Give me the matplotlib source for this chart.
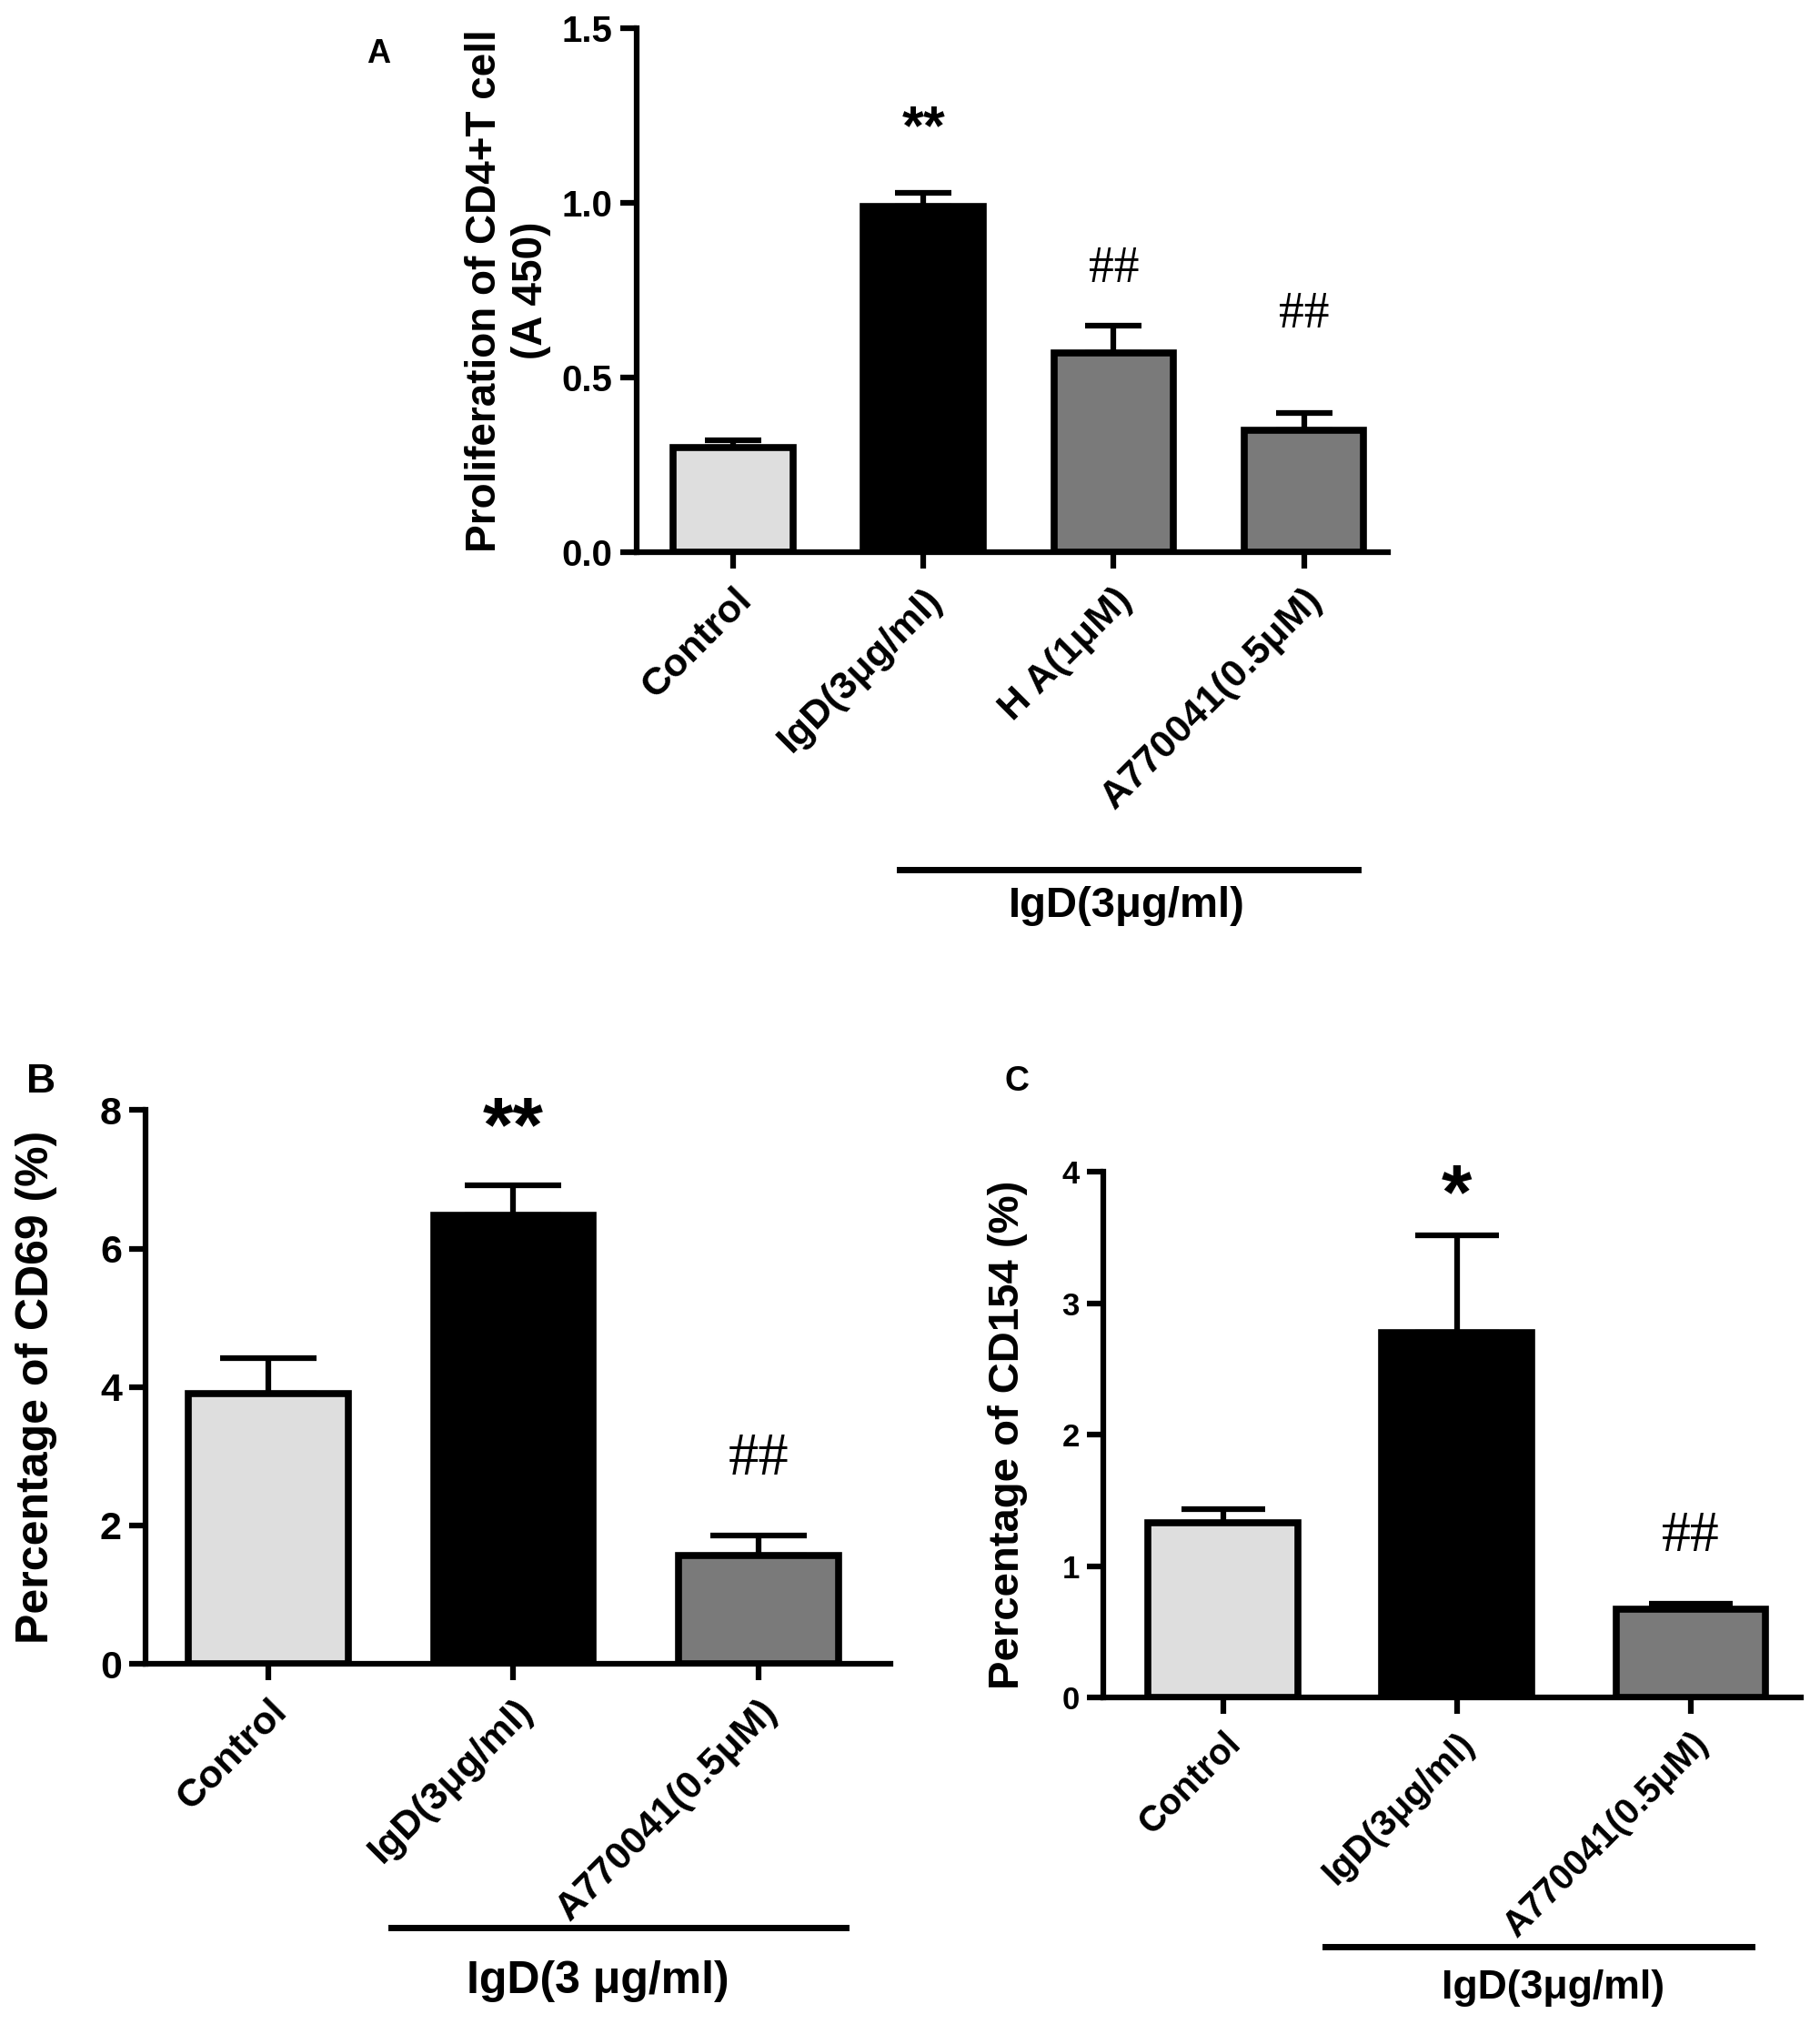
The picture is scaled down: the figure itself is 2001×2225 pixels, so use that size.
import numpy as np
import matplotlib
matplotlib.use("Agg")
import matplotlib.pyplot as plt

plt.rcParams["font.family"] = ["Liberation Sans", "DejaVu Sans"]
plt.rcParams["font.weight"] = "bold"

# panel A - proliferation
a_labels = ["Control", "IgD(3μg/ml)", "H A(1μM)", "A770041(0.5μM)"]
a_means = [0.30, 0.99, 0.57, 0.35]
a_err = [0.02, 0.04, 0.08, 0.05]
a_marks = ["", "**", "##", "##"]
a_mark_y = [0, 1.21, 0.81, 0.68]

# panel B - CD69
b_labels = ["Control", "IgD(3μg/ml)", "A770041(0.5μM)"]
b_means = [3.90, 6.48, 1.56]
b_err = [0.52, 0.44, 0.30]

# panel C - CD154
c_labels = ["Control", "IgD(3μg/ml)", "A770041(0.5μM)"]
c_means = [1.33, 2.78, 0.67]
c_err = [0.10, 0.74, 0.04]

LIGHT, DARK, MID = "#dedede", "#000000", "#7a7a7a"
fig = plt.figure(figsize=(20.01, 22.25), dpi=100, facecolor="white")


def panel(rect, labels, means, err, colors, ylim, yticks, ytl, xlim, width,
          capsize, tick_fs, ylab, ylab_fs, lpad, xl_fs):
    ax = fig.add_axes(rect)
    x = np.arange(len(means))
    ax.errorbar(x, means, yerr=[np.zeros(len(err)), err], fmt="none",
                ecolor="black", elinewidth=4.5, capsize=capsize,
                capthick=4.5, zorder=1, clip_on=False)
    ax.bar(x, means, width=width, color=colors, edgecolor="black",
           linewidth=5.5, zorder=2)
    ax.set_xlim(*xlim)
    ax.set_ylim(*ylim)
    ax.set_yticks(yticks)
    ax.set_yticklabels(ytl, fontsize=tick_fs, fontweight="bold")
    ax.set_xticks(x)
    ax.set_xticklabels(labels, rotation=45, ha="right",
                       rotation_mode="anchor", fontsize=xl_fs,
                       fontweight="bold")
    for s in ["top", "right"]:
        ax.spines[s].set_visible(False)
    for s in ["left", "bottom"]:
        ax.spines[s].set_linewidth(4.5)
    ax.tick_params(axis="both", length=13, width=4.5, direction="out")
    ax.tick_params(axis="x", pad=10)
    ax.tick_params(axis="y", pad=6)
    ax.set_ylabel(ylab, fontsize=ylab_fs, fontweight="bold", labelpad=lpad)
    return ax


axA = panel([0.3496, 0.727, 0.4128, 0.259], a_labels, a_means, a_err,
            [LIGHT, DARK, MID, MID], (0, 1.5), [0, 0.5, 1.0, 1.5],
            ["0.0", "0.5", "1.0", "1.5"], (-0.51, 3.44), 0.63, 22, 29,
            "Proliferation of CD4+T cell\n(A 450)", 33, 8, 31)
axA.text(1, a_mark_y[1], a_marks[1], ha="center", va="center",
         fontsize=44, fontweight="bold")
for i in (2, 3):
    axA.text(i, a_mark_y[i], a_marks[i], ha="center", va="center",
             fontsize=40, family="Liberation Serif", fontweight="normal")

axB = panel([0.0801, 0.1779, 0.409, 0.2736], b_labels, b_means, b_err,
            [LIGHT, DARK, MID], (0, 8), [0, 2, 4, 6, 8],
            ["0", "2", "4", "6", "8"], (-0.5, 2.537), 0.65, 38, 31,
            "Percentage of CD69 (%)", 36, 34, 31)
axB.text(1, 7.7, "**", ha="center", va="center", fontsize=62,
         fontweight="bold")
axB.text(2, 2.95, "##", ha="center", va="center", fontsize=48,
         family="Liberation Serif", fontweight="normal")

axC = panel([0.6064, 0.1614, 0.383, 0.2595], c_labels, c_means, c_err,
            [LIGHT, DARK, MID], (0, 4), [0, 1, 2, 3, 4],
            ["0", "1", "2", "3", "4"], (-0.51, 2.47), 0.64, 33, 25,
            "Percentage of CD154 (%)", 34, 27, 28.5)
axC.text(1, 3.8, "*", ha="center", va="center", fontsize=62,
         fontweight="bold")
axC.text(2, 1.22, "##", ha="center", va="center", fontsize=46,
         family="Liberation Serif", fontweight="normal")

# panel letters
fig.text(293 / 1410, 1 - 42 / 1568, "A", fontsize=26, fontweight="bold",
         ha="center", va="center")
fig.text(32 / 1410, 1 - 838 / 1568, "B", fontsize=32, fontweight="bold",
         ha="center", va="center")
fig.text(788 / 1410, 1 - 838 / 1568, "C", fontsize=27, fontweight="bold",
         ha="center", va="center")

# treatment brackets
for (x0, x1, y, tx, ty, txt, fs) in [
        (697, 1052, 674, 873, 702, "IgD(3μg/ml)", 34),
        (303, 655, 1493, 463, 1535, "IgD(3 μg/ml)", 36),
        (1027, 1357, 1508, 1203, 1540, "IgD(3μg/ml)", 32)]:
    fig.add_artist(plt.Line2D([x0 / 1410, x1 / 1410],
                              [1 - y / 1568, 1 - y / 1568],
                              color="black", linewidth=5))
    fig.text(tx / 1410, 1 - ty / 1568, txt, fontsize=fs,
             fontweight="bold", ha="center", va="center")

fig.savefig("out.png", dpi=100, facecolor="white")
